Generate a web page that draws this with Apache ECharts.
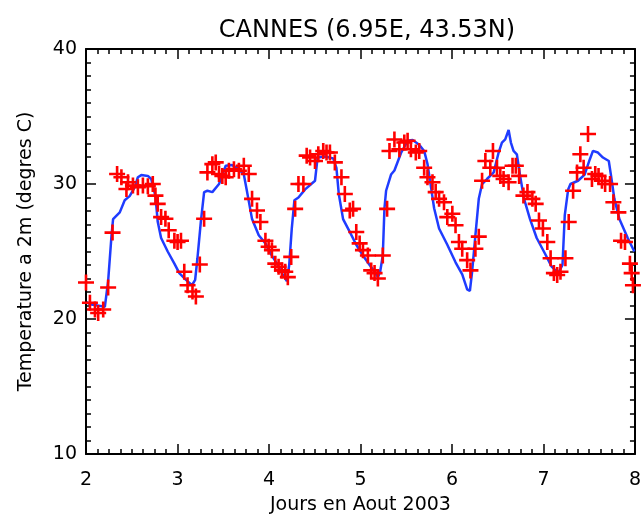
<!DOCTYPE html>
<html>
<head>
<meta charset="utf-8">
<script src="https://cdn.jsdelivr.net/npm/echarts@6/dist/echarts.min.js"></script>
<style>
  html, body { margin: 0; padding: 0; background: #fff; }
  #chart { width: 644px; height: 520px; }
</style>
</head>
<body>
<div id="chart"></div>
<script>
// model (blue line): day of August 2003, temperature at 2m
var modelDays = [2.008, 2.043, 2.206, 2.242, 2.279, 2.296, 2.369, 2.423, 2.477, 2.532, 2.567, 2.604, 2.676, 2.713, 2.759, 2.784, 2.821, 2.893, 2.966, 3.020,
  3.093, 3.158, 3.193, 3.218, 3.255, 3.291, 3.327, 3.381, 3.454, 3.527, 3.598, 3.671, 3.725, 3.761, 3.815, 3.888, 3.961, 4.032, 4.086,
  4.141, 4.195, 4.221, 4.249, 4.278, 4.322, 4.395, 4.503, 4.531, 4.611, 4.702, 4.737, 4.763, 4.810, 4.883, 4.954, 5.027, 5.100, 5.154, 5.190,
  5.215, 5.244, 5.262, 5.280, 5.334, 5.371, 5.443, 5.515, 5.570, 5.642, 5.696, 5.732, 5.768, 5.805, 5.859, 5.949, 6.039, 6.112, 6.166, 6.196,
  6.220, 6.256, 6.293, 6.329, 6.383, 6.456, 6.510, 6.546, 6.582, 6.619, 6.644, 6.673, 6.709, 6.745, 6.788, 6.853, 6.926, 7.016, 7.088, 7.161,
  7.208, 7.233, 7.270, 7.295, 7.378, 7.450, 7.505, 7.541, 7.595, 7.650, 7.714, 7.739, 7.775, 7.830, 7.921, 7.993];
var modelTemp = [21.25, 21.1, 20.9, 22.8, 26.2, 27.4, 27.9, 28.8, 29.1, 29.75, 30.5, 30.66, 30.6, 30.37, 29.1, 27.2, 26.0, 25.0, 24.1, 23.4,
  22.9, 22.5, 22.9, 24.5, 27.2, 29.4, 29.5, 29.4, 30.0, 31.35, 31.4, 31.1, 30.7, 29.4, 27.4, 26.2, 25.6, 24.7, 24.1,
  23.4, 22.8, 24.0, 26.7, 28.8, 29.0, 29.6, 30.24, 31.96, 32.04, 31.9, 31.2, 29.26, 27.4, 26.45, 25.5, 24.7, 24.0, 23.5, 23.1,
  23.5, 24.7, 28.2, 29.5, 30.7, 31.0, 32.3, 33.2, 33.26, 32.9, 32.45, 31.5, 29.9, 28.2, 26.7, 25.5, 24.2, 23.3, 22.2, 22.08,
  23.5, 26.2, 28.9, 30.0, 30.37, 30.86, 32.33, 33.07, 33.3, 34.0, 33.07, 32.45, 32.2, 30.6, 28.9, 27.4, 26.0, 24.85, 23.9, 23.4,
  24.0, 27.7, 29.6, 30.0, 30.24, 30.7, 31.8, 32.45, 32.33, 31.96, 31.7, 30.6, 28.9, 27.4, 26.0, 25.0];

// observations (red crosses), roughly hourly
var obsDays = [2.000, 2.043, 2.098, 2.133, 2.188, 2.242, 2.290, 2.340, 2.387, 2.442, 2.459, 2.513, 2.567, 2.622, 2.676, 2.730, 2.759, 2.784, 2.821, 2.868,
  2.904, 2.966, 3.001, 3.038, 3.074, 3.110, 3.164, 3.201, 3.244, 3.291, 3.327, 3.381, 3.418, 3.454, 3.490, 3.527, 3.562, 3.617, 3.671, 3.725,
  3.779, 3.815, 3.869, 3.906, 3.961, 3.996, 4.032, 4.069, 4.105, 4.141, 4.178, 4.206, 4.243, 4.286, 4.322, 4.376, 4.412, 4.449, 4.503, 4.539,
  4.593, 4.629, 4.666, 4.720, 4.792, 4.829, 4.883, 4.919, 4.954, 4.991, 5.027, 5.081, 5.117, 5.154, 5.190, 5.244, 5.291, 5.317, 5.371, 5.425,
  5.479, 5.515, 5.551, 5.605, 5.642, 5.696, 5.732, 5.787, 5.822, 5.859, 5.913, 5.949, 6.004, 6.039, 6.076, 6.112, 6.166, 6.202, 6.256, 6.293,
  6.329, 6.365, 6.419, 6.448, 6.492, 6.528, 6.564, 6.619, 6.662, 6.698, 6.734, 6.781, 6.825, 6.879, 6.915, 6.951, 6.994, 7.042, 7.078, 7.114,
  7.150, 7.186, 7.240, 7.276, 7.324, 7.367, 7.403, 7.439, 7.487, 7.530, 7.566, 7.602, 7.639, 7.674, 7.728, 7.764, 7.819, 7.848, 7.891, 7.945,
  7.964, 7.978];
var obsTemp = [22.7, 21.2, 20.7, 20.44, 20.7, 22.33, 26.4, 30.74, 30.5, 29.63, 30.13, 29.88, 29.76, 29.88, 29.83, 30.0, 29.14, 28.53, 27.55, 27.43,
  26.57, 25.8, 25.7, 25.8, 23.5, 22.5, 22.04, 21.67, 24.04, 27.43, 30.86, 31.47, 31.6, 30.74, 30.6, 30.5, 30.98, 31.1, 30.98, 31.35,
  30.74, 28.9, 28.04, 27.18, 25.8, 25.35, 25.1, 24.1, 23.87, 23.6, 23.5, 23.1, 24.6, 28.16, 30.0, 30.0, 32.1, 31.96, 31.7, 32.2,
  32.45, 32.33, 32.33, 31.6, 30.5, 29.26, 28.04, 28.16, 26.45, 25.6, 25.1, 24.7, 23.6, 23.4, 23.0, 24.7, 28.16, 32.45, 33.3, 32.57,
  33.07, 33.2, 32.57, 32.33, 32.45, 31.2, 30.5, 30.13, 29.4, 28.9, 28.65, 27.55, 27.8, 26.94, 25.7, 25.2, 24.36, 23.6, 25.2, 26.1,
  30.24, 31.7, 31.2, 32.45, 31.2, 30.6, 30.37, 30.13, 31.35, 31.35, 30.6, 29.14, 29.4, 28.9, 28.53, 27.3, 26.7, 25.7, 24.5, 23.4,
  23.26, 23.5, 24.5, 27.18, 29.5, 30.86, 32.2, 31.2, 33.7, 30.37, 30.74, 30.6, 30.24, 30.0, 30.0, 28.65, 27.9, 25.8, 25.7, 24.1,
  23.4, 22.5];

var xTicks = [2, 3, 4, 5, 6, 7, 8];
var yTicks = [10, 20, 30, 40];

var modelData = modelDays.map(function (d, i) { return [d, modelTemp[i]]; });
var obsData = obsDays.map(function (d, i) { return [d, obsTemp[i]]; });

var font = 'DejaVu Sans';
// filled plus sign, arms 2.6 units thick on a 16 unit box
var plus = 'path://M-1.3,-8L1.3,-8L1.3,-1.3L8,-1.3L8,1.3L1.3,1.3L1.3,8L-1.3,8L-1.3,1.3L-8,1.3L-8,-1.3L-1.3,-1.3Z';

function frameAxis(pos, showLabel, isX) {
  return {
    type: 'value',
    position: pos,
    min: isX ? xTicks[0] : yTicks[0],
    max: isX ? xTicks[xTicks.length - 1] : yTicks[yTicks.length - 1],
    interval: isX ? 1 : 10,
    axisLine: { show: true, onZero: false, lineStyle: { color: '#000', width: 2 } },
    axisTick: { show: true, inside: true, length: 10, lineStyle: { color: '#000', width: 1.5 } },
    minorTick: { show: true, splitNumber: isX ? 8 : 10, length: 5, lineStyle: { color: '#000', width: 1.5 } },
    splitLine: { show: false },
    axisLabel: {
      show: showLabel, color: '#000', fontFamily: font, fontSize: 19,
      margin: isX ? 17 : 9
    }
  };
}

var xBottom = frameAxis('bottom', true, true);
xBottom.name = 'Jours en Aout 2003';
xBottom.nameLocation = 'middle';
xBottom.nameGap = 42;
xBottom.nameTextStyle = { color: '#000', fontFamily: font, fontSize: 19 };

var yLeft = frameAxis('left', true, false);
yLeft.name = 'Temperature a 2m (degres C)';
yLeft.nameLocation = 'middle';
yLeft.nameGap = 50;
yLeft.nameTextStyle = { color: '#000', fontFamily: font, fontSize: 19 };

var chart = echarts.init(document.getElementById('chart'));
chart.setOption({
  animation: false,
  backgroundColor: '#fff',
  title: {
    text: 'CANNES (6.95E, 43.53N)',
    left: 362, top: 14,
    textAlign: 'center',
    textStyle: { color: '#000', fontFamily: font, fontSize: 24, fontWeight: 'normal' }
  },
  grid: { left: 86, right: 5, top: 49, bottom: 63 },
  xAxis: [xBottom, frameAxis('top', false, true)],
  yAxis: [yLeft, frameAxis('right', false, false)],
  series: [
    {
      type: 'line',
      data: modelData,
      showSymbol: false,
      lineStyle: { color: '#1f3cff', width: 2.5 },
      z: 2
    },
    {
      type: 'scatter',
      data: obsData,
      symbol: plus,
      symbolSize: 16,
      itemStyle: { color: '#ff0000', opacity: 1 },
      z: 3
    }
  ]
});
</script>
</body>
</html>
